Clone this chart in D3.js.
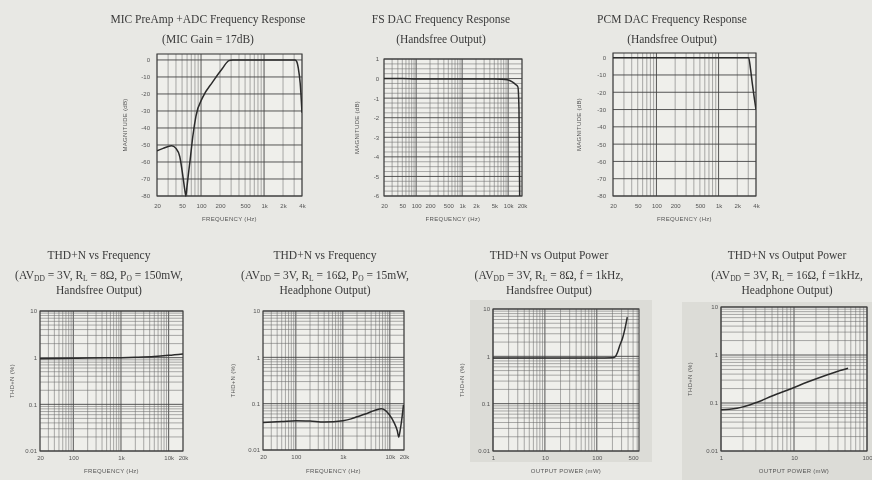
<!DOCTYPE html>
<html>
<head>
<meta charset="utf-8">
<script src="https://cdn.jsdelivr.net/npm/d3@7"></script>
<style>
  body { margin: 0; background: #e8e8e4; }
  svg { display: block; filter: blur(0.35px); }
  .title { font-family: "Liberation Serif", "Times New Roman", serif; font-size: 11.5px; fill: #3a3a3a; text-anchor: middle; }
  .tick text { font-family: "Liberation Sans", Arial, sans-serif; font-size: 6px; fill: #555; }
  .axis-label { font-family: "Liberation Sans", Arial, sans-serif; font-size: 6px; letter-spacing: 0.3px; fill: #555; text-anchor: middle; }
</style>
</head>
<body>
<svg id="chart" width="872" height="480"></svg>
<script>
// ---- data ----
// MIC PreAmp + ADC frequency response (MIC gain = 17dB)
var micFreq = [20, 25, 34, 40, 46, 51.6, 55, 57.5, 60, 64, 67, 74, 83, 106, 152, 218, 277, 320, 500, 1000, 2000, 3100, 3300, 3500, 3750, 4000]
var micMag  = [-53.5, -52, -50.4, -52, -56.9, -68.6, -76, -80, -74, -65, -59, -45, -33, -22, -13, -5, -0.4, 0, 0, 0, 0, 0, -1, -5, -14, -31]

// FS DAC frequency response (handsfree output)
var fsFreq = [20, 50, 100, 200, 500, 1000, 2000, 5000, 7000, 9600, 12300, 14500, 16300, 17200, 17800]
var fsMag  = [0, 0, -0.02, -0.02, -0.02, -0.02, -0.02, -0.02, -0.03, -0.06, -0.17, -0.3, -0.43, -1.6, -6]

// PCM DAC frequency response (handsfree output)
var pcmFreq = [20, 100, 1000, 2000, 3050, 3250, 3490, 3740, 4000]
var pcmMag  = [0, 0, 0, 0, 0, -6, -15, -23, -30]

// THD+N vs frequency, handsfree (8 ohm, 150mW)
var hfFreq = [20, 50, 100, 200, 500, 1000, 2000, 5000, 10000, 20000]
var hfThd  = [0.95, 0.96, 0.97, 0.98, 0.99, 1.0, 1.02, 1.06, 1.12, 1.2]

// THD+N vs frequency, headphone (16 ohm, 15mW)
var hpFreq = [20, 50, 100, 200, 400, 1000, 1500, 2000, 3000, 4000, 5000, 6600, 8000, 9600, 12300, 14400, 15500, 16500, 17900, 19500]
var hpThd  = [0.039, 0.041, 0.043, 0.042, 0.040, 0.043, 0.047, 0.052, 0.06, 0.067, 0.073, 0.078, 0.072, 0.059, 0.039, 0.026, 0.019, 0.026, 0.045, 0.094]

// THD+N vs output power, handsfree (8 ohm, 1kHz)
var hfPow    = [1, 10, 100, 200, 225, 250, 277, 313, 348, 386]
var hfPowThd = [0.92, 0.92, 0.92, 0.93, 0.97, 1.2, 1.7, 2.4, 3.8, 6.7]

// THD+N vs output power, headphone (16 ohm, 1kHz)
var hpPow    = [1, 1.3, 1.66, 2, 3.2, 5, 9.3, 15, 27.5, 40, 55]
var hpPowThd = [0.072, 0.074, 0.078, 0.083, 0.105, 0.14, 0.2, 0.27, 0.38, 0.46, 0.53]

// tick labels
var dbTicks   = [0, -10, -20, -30, -40, -50, -60, -70, -80]
var fsTicks   = [1, 0, -1, -2, -3, -4, -5, -6]
var thdTicks  = [10, 1, 0.1, 0.01]
var f4kTicks  = [20, 50, 100, 200, 500, 1000, 2000, 4000]
var f20kTicks = [20, 50, 100, 200, 500, 1000, 2000, 5000, 10000, 20000]
var fThdTicks = [20, 100, 1000, 10000, 20000]
var pHfTicks  = [1, 10, 100, 500]
var pHpTicks  = [1, 10, 100]

// titles (_{..} = subscript)
var titles = [
  ["MIC PreAmp +ADC Frequency Response", "(MIC Gain = 17dB)"],
  ["FS DAC Frequency Response", "(Handsfree Output)"],
  ["PCM DAC Frequency Response", "(Handsfree Output)"],
  ["THD+N vs Frequency", "(AV_{DD} = 3V, R_{L} = 8Ω, P_{O} = 150mW,", "Handsfree Output)"],
  ["THD+N vs Frequency", "(AV_{DD} = 3V, R_{L} = 16Ω, P_{O} = 15mW,", "Headphone Output)"],
  ["THD+N vs Output Power", "(AV_{DD} = 3V, R_{L} = 8Ω, f = 1kHz,", "Handsfree Output)"],
  ["THD+N vs Output Power", "(AV_{DD} = 3V, R_{L} = 16Ω, f =1kHz,", "Headphone Output)"]
]

var fmtHz = d => d >= 1000 ? (d / 1000) + "k" : d + ""

var charts = [
  {box: [157, 54, 302, 196], xd: [20, 4000], yd: [-80, 3.5], ylog: false, yStep: 10,
   xt: f4kTicks, yt: dbTicks, xs: micFreq, ys: micMag, xf: fmtHz, yf: d => d,
   xl: "FREQUENCY (Hz)", yl: "MAGNITUDE (dB)", t: titles[0], tx: 208, ty: [22.5, 42.5], xpad: 8, ypad: 7, xlY: 25, ylX: 32},
  {box: [384, 59, 522, 196], xd: [20, 20000], yd: [-6, 1], ylog: false, yStep: 0.25,
   xt: f20kTicks, yt: fsTicks, xs: fsFreq, ys: fsMag, xf: fmtHz, yf: d => d,
   xl: "FREQUENCY (Hz)", yl: "MAGNITUDE (dB)", t: titles[1], tx: 441, ty: [22.5, 42.5], xpad: 8, ypad: 5, xlY: 25, ylX: 27},
  {box: [613, 53, 756, 196], xd: [20, 4000], yd: [-80, 2.7], ylog: false, yStep: 10,
   xt: f4kTicks, yt: dbTicks, xs: pcmFreq, ys: pcmMag, xf: fmtHz, yf: d => d,
   xl: "FREQUENCY (Hz)", yl: "MAGNITUDE (dB)", t: titles[2], tx: 672, ty: [22.5, 42.5], xpad: 8, ypad: 7, xlY: 25, ylX: 34},
  {box: [40, 311, 183, 451], xd: [20, 20000], yd: [0.01, 10], ylog: true,
   xt: fThdTicks, yt: thdTicks, xs: hfFreq, ys: hfThd, xf: fmtHz, yf: d => d + "",
   xl: "FREQUENCY (Hz)", yl: "THD+N (%)", t: titles[3], tx: 99, ty: [258.5, 278.5, 293.5], xpad: 5, ypad: 3, xlY: 22, ylX: 28},
  {box: [263, 311, 404, 450], xd: [20, 20000], yd: [0.01, 10], ylog: true,
   xt: fThdTicks, yt: thdTicks, xs: hpFreq, ys: hpThd, xf: fmtHz, yf: d => d + "",
   xl: "FREQUENCY (Hz)", yl: "THD+N (%)", t: titles[4], tx: 325, ty: [258.5, 278.5, 293.5], xpad: 5, ypad: 3, xlY: 23, ylX: 30},
  {box: [493, 309, 639, 451], xd: [1, 650], yd: [0.01, 10], ylog: true,
   xt: pHfTicks, yt: thdTicks, xs: hfPow, ys: hfPowThd, xf: d => d, yf: d => d + "",
   xl: "OUTPUT POWER (mW)", yl: "THD+N (%)", t: titles[5], tx: 549, ty: [258.5, 278.5, 293.5], xpad: 5, ypad: 3, xlY: 22, ylX: 31,
   shade: [470, 300, 652, 462]},
  {box: [721, 307, 867, 451], xd: [1, 100], yd: [0.01, 10], ylog: true,
   xt: pHpTicks, yt: thdTicks, xs: hpPow, ys: hpPowThd, xf: d => d, yf: d => d + "",
   xl: "OUTPUT POWER (mW)", yl: "THD+N (%)", t: titles[6], tx: 787, ty: [258.5, 278.5, 293.5], xpad: 5, ypad: 3, xlY: 22, ylX: 31,
   shade: [682, 302, 872, 480]}
]

var svg = d3.select("#chart")

// log grid values: 1..9 x each decade inside the domain
function logGrid(d0, d1) {
  var out = []
  for (var k = Math.floor(Math.log10(d0)); k <= Math.ceil(Math.log10(d1)); k++) {
    for (var m = 1; m < 10; m++) {
      var v = m * Math.pow(10, k)
      if (v >= d0 * 0.999 && v <= d1 * 1.001) out.push(+v.toPrecision(3))
    }
  }
  return out
}

function drawTitle(c) {
  c.t.forEach(function(line, i) {
    var txt = svg.append("text").attr("class", "title").attr("x", c.tx).attr("y", c.ty[i])
    var parts = line.split(/_\{([^}]*)\}/)
    var shifted = false
    parts.forEach(function(p, j) {
      if (!p.length) return
      var ts = txt.append("tspan").text(p)
      if (j % 2 === 1) {
        ts.attr("font-size", "7.5px").attr("dy", 2.5)
        shifted = true
      } else if (shifted) {
        ts.attr("dy", -2.5)
        shifted = false
      }
    })
  })
}

charts.forEach(function(c, idx) {
  var x0 = c.box[0], y0 = c.box[1], x1 = c.box[2], y1 = c.box[3]
  var x = d3.scaleLog().domain(c.xd).range([x0, x1])
  var y = (c.ylog ? d3.scaleLog() : d3.scaleLinear()).domain(c.yd).range([y1, y0])

  if (c.shade) {
    svg.append("rect")
      .attr("x", c.shade[0]).attr("y", c.shade[1])
      .attr("width", c.shade[2] - c.shade[0]).attr("height", c.shade[3] - c.shade[1])
      .attr("fill", "#dcdcd7")
  }

  drawTitle(c)

  var g = svg.append("g").attr("class", "plot-" + idx)

  g.append("rect")
    .attr("x", x0).attr("y", y0).attr("width", x1 - x0).attr("height", y1 - y0)
    .attr("fill", "#efefeb")

  // vertical grid
  var xv = logGrid(c.xd[0], c.xd[1])
  g.selectAll(".vg").data(xv).enter().append("line")
    .attr("x1", d => x(d)).attr("x2", d => x(d))
    .attr("y1", y0).attr("y2", y1)
    .attr("stroke", d => Math.abs(Math.log10(d) % 1) < 1e-6 ? "#444" : "#6a6a6a")
    .attr("stroke-width", d => Math.abs(Math.log10(d) % 1) < 1e-6 ? 0.9 : 0.55)

  // horizontal grid
  var yv
  if (c.ylog) yv = logGrid(c.yd[0], c.yd[1])
  else yv = d3.range(c.yd[0], c.yd[1] + 1e-9, c.yStep)
  var isMajorY = function(d) {
    if (c.ylog) return c.yt.some(t => Math.abs(t - d) < 1e-9)
    return Math.abs(d / (c.yStep < 1 ? 1 : c.yStep) - Math.round(d / (c.yStep < 1 ? 1 : c.yStep))) < 1e-6
  }
  g.selectAll(".hg").data(yv).enter().append("line")
    .attr("x1", x0).attr("x2", x1)
    .attr("y1", d => y(d)).attr("y2", d => y(d))
    .attr("stroke", d => isMajorY(d) ? "#444" : "#6a6a6a")
    .attr("stroke-width", d => isMajorY(d) ? 0.9 : 0.55)

  g.append("rect")
    .attr("x", x0).attr("y", y0).attr("width", x1 - x0).attr("height", y1 - y0)
    .attr("fill", "none").attr("stroke", "#3e3e3e").attr("stroke-width", 1.1)

  // curve
  var clipId = "clip" + idx
  svg.append("clipPath").attr("id", clipId).append("rect")
    .attr("x", x0).attr("y", y0 - 1).attr("width", x1 - x0).attr("height", y1 - y0 + 2)
  var pts = c.xs.map((v, i) => [v, c.ys[i]])
  g.append("path")
    .datum(pts)
    .attr("clip-path", "url(#" + clipId + ")")
    .attr("fill", "none").attr("stroke", "#2b2b2b").attr("stroke-width", 1.5)
    .attr("d", d3.line().x(d => x(d[0])).y(d => y(d[1])).curve(d3.curveMonotoneX))

  // axes
  var ax = g.append("g").attr("transform", "translate(0," + y1 + ")")
    .call(d3.axisBottom(x).tickValues(c.xt).tickFormat(c.xf).tickSize(0).tickPadding(c.xpad))
  ax.select(".domain").remove()
  ax.attr("font-family", null).attr("font-size", null)

  var ay = g.append("g").attr("transform", "translate(" + x0 + ",0)")
    .call(d3.axisLeft(y).tickValues(c.yt).tickFormat(c.yf).tickSize(0).tickPadding(c.ypad))
  ay.select(".domain").remove()
  ay.attr("font-family", null).attr("font-size", null)

  // axis titles
  g.append("text").attr("class", "axis-label")
    .attr("x", (x0 + x1) / 2).attr("y", y1 + c.xlY)
    .text(c.xl)
  g.append("text").attr("class", "axis-label")
    .attr("transform", "translate(" + (x0 - c.ylX) + "," + ((y0 + y1) / 2) + ") rotate(-90)")
    .attr("dy", "0.35em")
    .text(c.yl)
})
</script>
</body>
</html>
